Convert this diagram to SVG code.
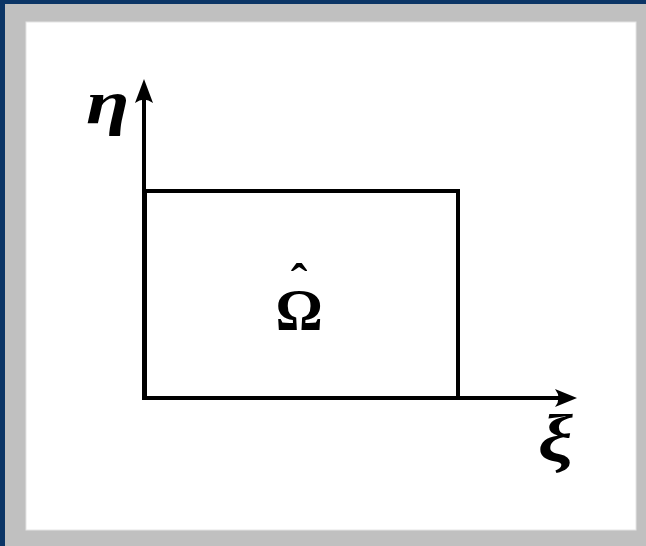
<svg xmlns="http://www.w3.org/2000/svg" width="646" height="546" viewBox="0 0 646 546">
  <style>
    .ax { stroke: #000; stroke-width: 4; fill: none; }
    .lbl { font-family: "Liberation Serif", "DejaVu Serif", serif; font-weight: bold; fill: #000; }
    .it { font-style: italic; }
  </style>
  <rect x="0" y="0" width="646" height="546" fill="#0b3566"/>
  <rect x="5" y="4" width="641" height="542" fill="#c0c0c0"/>
  <rect x="26" y="22" width="610" height="508" fill="#ffffff" stroke="#e4e4e4" stroke-width="1"/>
  <g id="connectors">
    <line class="ax" x1="144" y1="98" x2="144" y2="398"/>
    <path d="M144,79 L153,103 Q144,96 135,103 Z" fill="#000"/>
    <line class="ax" x1="142" y1="398" x2="560" y2="398"/>
    <path d="M577,398 L555,407 Q562,398 555,389 Z" fill="#000"/>
  </g>
  <g id="domain">
    <rect class="ax" x="145" y="191" width="313" height="207"/>
    <text class="lbl" text-anchor="middle"><tspan x="299" y="299" font-size="50">ˆ</tspan><tspan x="299" y="330" font-size="59">Ω</tspan></text>
  </g>
  <g id="eta-label">
    <text class="lbl it" transform="translate(86,123) scale(1.3,1)" font-size="61">η</text>
  </g>
  <g id="xi-label">
    <text class="lbl it" transform="translate(538,462) scale(1.15,1)" font-size="68">ξ</text>
  </g>
</svg>
